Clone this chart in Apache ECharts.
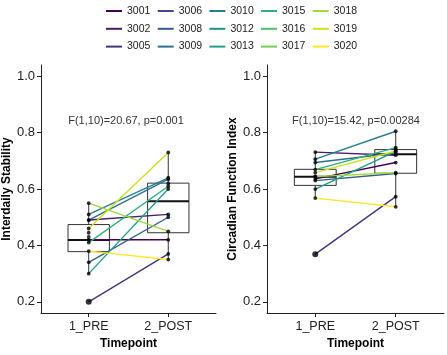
<!DOCTYPE html>
<html>
<head>
<meta charset="utf-8">
<script src="https://cdn.jsdelivr.net/npm/echarts@6/dist/echarts.min.js"></script>
<style>
  html, body { margin: 0; padding: 0; background: #fff; }
  #chart { width: 447px; height: 355px; }
</style>
</head>
<body>
<div id="chart"></div>
<script>
// subjects and their viridis colours
const subjects = ['3001', '3002', '3005', '3006', '3008', '3009', '3010', '3012',
  '3013', '3015', '3016', '3017', '3018', '3019', '3020'];
const subjectColors = ['#440154', '#481B6D', '#46337E', '#3F4889', '#365C8D', '#2E6E8E',
  '#277F8E', '#21908C', '#1FA187', '#2DB27D', '#4AC16D', '#71CF57', '#9FDA3A', '#CFE11C', '#FDE725'];

const timepoints = ['1_PRE', '2_POST'];
const yTicks = [0.2, 0.4, 0.6, 0.8, 1.0];

// Interdaily Stability (null = missing)
const isPre  = [0.42, 0.49, 0.20, 0.445, 0.34, 0.49, 0.51, 0.43, 0.30, 0.41, null, null, 0.55, 0.46, 0.38];
const isPost = [0.42, 0.51, 0.37, null, 0.50, 0.635, 0.64, null, 0.60, 0.61, 0.62, null, 0.45, 0.73, 0.35];
// Circadian Function Index
const cfiPre  = [0.636, 0.731, 0.369, 0.645, 0.630, 0.694, 0.706, null, 0.600, 0.669, null, null, 0.644, 0.658, 0.568];
const cfiPost = [0.694, 0.720, 0.573, null, 0.655, 0.728, 0.805, null, 0.734, 0.747, 0.741, null, 0.658, 0.735, 0.537];

// box stats: [x, lower whisker, q1, median, q3, upper whisker]
const isBox  = [[1, 0.30, 0.378, 0.419, 0.474, 0.55], [2, 0.35, 0.445, 0.557, 0.621, 0.73]];
const cfiBox = [[1, 0.568, 0.613, 0.644, 0.670, 0.731], [2, 0.537, 0.656, 0.723, 0.740, 0.805]];

const statLabels = ['F(1,10)=20.67, p=0.001', 'F(1,10)=15.42, p=0.00284'];
const yTitles = ['Interdaily Stability', 'Circadian Function Index'];

const FONT = '"Liberation Sans", Arial, sans-serif';
const chart = echarts.init(document.getElementById('chart'), null, { renderer: 'canvas' });

const panels = [
  { pre: isPre, post: isPost, box: isBox },
  { pre: cfiPre, post: cfiPost, box: cfiBox },
];

const grid = [
  { left: 38, top: 65, width: 178, bottom: 39 },
  { left: 267, top: 65, width: 177, bottom: 39 },
];

const xAxis = panels.map((p, i) => ({
  type: 'value', gridIndex: i, min: 0.4, max: 2.6,
  name: 'Timepoint', nameLocation: 'middle', nameGap: 21,
  nameTextStyle: { fontFamily: FONT, fontSize: 12, fontWeight: 'bold', color: '#000' },
  splitLine: { show: false },
  axisLine: { onZero: false, lineStyle: { color: '#222', width: 1 } },
  axisTick: { customValues: [1, 2], length: 4, lineStyle: { color: '#222' } },
  axisLabel: {
    customValues: [1, 2], margin: 7,
    formatter: (v) => timepoints[Math.round(v) - 1],
    fontFamily: FONT, fontSize: 12.5, color: '#222',
  },
}));

const yAxis = panels.map((p, i) => ({
  type: 'value', gridIndex: i, min: 0.16, max: 1.04,
  name: yTitles[i], nameLocation: 'middle', nameGap: 24,
  nameTextStyle: { fontFamily: FONT, fontSize: 12, fontWeight: 'bold', color: '#000' },
  splitLine: { show: false },
  axisLine: { show: true, onZero: false, lineStyle: { color: '#222', width: 1 } },
  axisTick: { show: true, customValues: yTicks, length: 4, lineStyle: { color: '#222' } },
  axisLabel: {
    customValues: yTicks, margin: 6,
    formatter: (v) => v.toFixed(1),
    fontFamily: FONT, fontSize: 13, color: '#222',
  },
}));

const series = [];

panels.forEach((p, i) => {
  // boxes
  series.push({
    type: 'custom', xAxisIndex: i, yAxisIndex: i, z: 1, silent: true,
    data: p.box,
    renderItem: (params, api) => {
      const x = api.value(0);
      const at = (v) => api.coord([x, v]);
      const half = (api.coord([x + 0.26, 0.5])[0] - api.coord([x - 0.26, 0.5])[0]) / 2;
      const lo = at(api.value(1)), q1 = at(api.value(2)), med = at(api.value(3));
      const q3 = at(api.value(4)), hi = at(api.value(5));
      const stroke = { stroke: '#333', lineWidth: 1 };
      return {
        type: 'group',
        children: [
          { type: 'line', shape: { x1: lo[0], y1: lo[1], x2: q1[0], y2: q1[1] }, style: stroke },
          { type: 'line', shape: { x1: q3[0], y1: q3[1], x2: hi[0], y2: hi[1] }, style: stroke },
          { type: 'rect', shape: { x: q3[0] - half, y: q3[1], width: half * 2, height: q1[1] - q3[1] },
            style: { fill: 'rgba(255,255,255,0)', stroke: '#333', lineWidth: 1 } },
          { type: 'line', shape: { x1: med[0] - half, y1: med[1], x2: med[0] + half, y2: med[1] },
            style: { stroke: '#111', lineWidth: 2 } },
        ],
      };
    },
  });

  // one line per subject
  subjects.forEach((s, k) => {
    const pts = [];
    if (p.pre[k] != null) pts.push([1, p.pre[k]]);
    if (p.post[k] != null) pts.push([2, p.post[k]]);
    series.push({
      type: 'line', name: s, xAxisIndex: i, yAxisIndex: i, z: 2,
      color: subjectColors[k], showSymbol: false, silent: true,
      lineStyle: { width: 1.4, color: subjectColors[k] },
      data: pts,
    });
  });

  // points, with box outliers drawn larger
  const dots = [];
  const outs = [];
  subjects.forEach((s, k) => {
    [[1, p.pre[k]], [2, p.post[k]]].forEach(([x, v]) => {
      if (v == null) return;
      const b = p.box[x - 1];
      (v < b[1] || v > b[5] ? outs : dots).push([x, v]);
    });
  });
  series.push({
    type: 'scatter', xAxisIndex: i, yAxisIndex: i, z: 3, silent: true,
    symbolSize: 3.8, itemStyle: { color: '#000' }, data: dots,
  });
  series.push({
    type: 'scatter', xAxisIndex: i, yAxisIndex: i, z: 3, silent: true,
    symbolSize: 6, itemStyle: { color: '#000' }, data: outs,
  });
});

// legend: 5 columns of 3, column-major
const legendCols = [101, 152.7, 204.4, 256, 307.7];
const legend = legendCols.map((left, c) => ({
  orient: 'vertical', left, top: 0,
  data: subjects.slice(c * 3, c * 3 + 3),
  icon: 'rect', itemWidth: 16, itemHeight: 2, itemGap: 5.8,
  selectedMode: false,
  textStyle: { fontFamily: FONT, fontSize: 10.5, lineHeight: 12, color: '#222', padding: [0, 0, 0, 0] },
}));

chart.setOption({
  animation: false,
  backgroundColor: '#fff',
  grid, xAxis, yAxis, legend, series,
  graphic: [
    { type: 'text', x: 126, y: 121, style: { text: statLabels[0], fontFamily: FONT, fontSize: 11, fill: '#333', align: 'center', verticalAlign: 'middle' } },
    { type: 'text', x: 356, y: 121, style: { text: statLabels[1], fontFamily: FONT, fontSize: 11, fill: '#333', align: 'center', verticalAlign: 'middle' } },
  ],
});
</script>
</body>
</html>
